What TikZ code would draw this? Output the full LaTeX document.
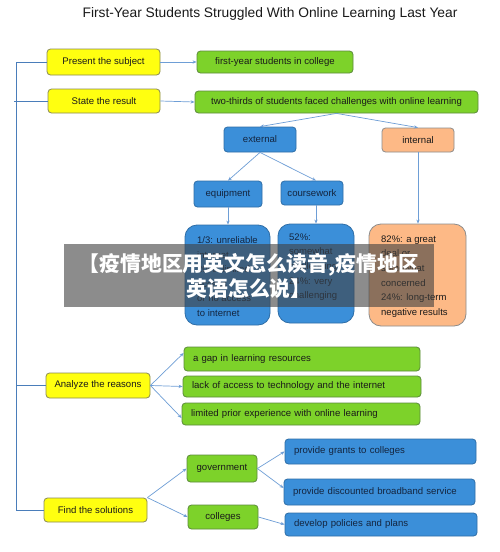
\documentclass[tikz,border=0pt]{standalone}
\usepackage{fontspec}
\setmainfont{Liberation Sans}
\newfontfamily\cjk{Noto Sans CJK SC}
\usetikzlibrary{arrows.meta}
\definecolor{yelfill}{HTML}{FFFF10}
\definecolor{yeldraw}{HTML}{8A8A55}
\definecolor{grnfill}{HTML}{7DD22A}
\definecolor{grndraw}{HTML}{5C8A3C}
\definecolor{blufill}{HTML}{3B8FD9}
\definecolor{bludraw}{HTML}{2E6DA6}
\definecolor{orgfill}{HTML}{FDB986}
\definecolor{orgdraw}{HTML}{8C8C8C}
\definecolor{linecol}{HTML}{6E9ED6}
\definecolor{trunkcol}{HTML}{4A7DBA}
\definecolor{bantone}{HTML}{404040}
\definecolor{txtdark}{HTML}{1A1A1A}
\definecolor{txtblue}{HTML}{14253F}
\tikzset{
  basebox/.style={rectangle, rounded corners=3.5pt, line width=0.8pt, inner sep=0pt,
    font=\fontsize{9.6}{11}\selectfont},
  ybox/.style={basebox, fill=yelfill, draw=yeldraw, text=txtdark},
  gbox/.style={basebox, fill=grnfill, draw=grndraw, text=txtdark},
  bbox/.style={basebox, fill=blufill, draw=bludraw, text=txtblue},
  obox/.style={basebox, fill=orgfill, draw=orgdraw, text=txtdark},
  bigbox/.style={rounded corners=12pt},
  lefttxt/.style={align=left, inner xsep=9pt},
  detailtxt/.style={anchor=north west, inner sep=0pt, align=left,
    font=\fontsize{9.5}{14.6}\selectfont},
  arr/.style={draw=linecol, line width=0.7pt, -{Stealth[length=4pt,width=3.2pt]}},
  trunk/.style={draw=trunkcol, line width=0.8pt},
}
\begin{document}
\begin{tikzpicture}[x=1pt,y=-1pt]
\useasboundingbox[fill=white] (0,0) rectangle (500,552);

\node[font=\fontsize{13.8}{16}\selectfont, text=txtdark] (title) at (270,14)
  {First-Year Students Struggled With Online Learning Last Year};

% yellow boxes
\node[ybox, minimum width=113pt, minimum height=26pt] (ps) at (103.5,62) {Present the subject};
\node[ybox, minimum width=112pt, minimum height=24pt] (sr) at (104,101) {State the result};
\node[ybox, minimum width=104pt, minimum height=25pt] (ar) at (98,385.5) {Analyze the reasons};
\node[ybox, minimum width=103pt, minimum height=24pt] (fs) at (95.5,510) {Find the solutions};

% green boxes
\node[gbox, minimum width=156pt, minimum height=22pt] (fy) at (275,62) {first-year students in college};
\node[gbox, minimum width=283pt, minimum height=22pt] (tt) at (336.5,102) {two-thirds of students faced challenges with online learning};
\node[gbox, lefttxt, text width=218pt, minimum height=24pt] (gap) at (302,359) {a gap in learning resources};
\node[gbox, lefttxt, text width=220pt, minimum height=21pt] (lack) at (302,386.5) {lack of access to technology and the internet};
\node[gbox, lefttxt, text width=220pt, minimum height=22pt] (lim) at (301,414) {limited prior experience with online learning};
\node[gbox, minimum width=70pt, minimum height=27pt] (gov) at (222,468.5) {government};
\node[gbox, minimum width=70pt, minimum height=24pt] (col) at (223,517) {colleges};

% blue / orange boxes
\node[bbox, minimum width=72pt, minimum height=25pt] (ext) at (260,139.5) {external};
\node[obox, minimum width=72pt, minimum height=24pt] (int) at (418,140) {internal};
\node[bbox, minimum width=68pt, minimum height=26pt] (eq) at (228,194) {equipment};
\node[bbox, minimum width=62pt, minimum height=24pt] (cw) at (312,193) {coursework};
\node[bbox, bigbox, minimum width=85pt, minimum height=100pt] (eqd) at (227.5,275) {};
\node[bbox, bigbox, minimum width=76pt, minimum height=99pt] (cwd) at (316,273.5) {};
\node[obox, bigbox, minimum width=97pt, minimum height=102pt] (ind) at (417.5,275) {};
\node[detailtxt, text=txtblue] (eqdt) at (197,236.5)
  {1/3: unreliable\\internet\\20\%: limited\\access\\or no access\\to internet};
\node[detailtxt, text=txtblue] (cwdt) at (289,233.5)
  {52\%:\\somewhat\\challenging\\24\%: very\\challenging};
\node[detailtxt, text=txtdark] (indt) at (381,235.5)
  {82\%: a great\\deal or\\somewhat\\concerned\\24\%: long-term\\negative results};

\node[bbox, lefttxt, text width=173pt, minimum height=25pt] (pg) at (380.5,451.5) {provide grants to colleges};
\node[bbox, lefttxt, text width=173pt, minimum height=26pt] (pd) at (379.5,492) {provide discounted broadband service};
\node[bbox, lefttxt, text width=174pt, minimum height=23pt] (dp) at (381,524.5) {develop policies and plans};

% trunk
\coordinate (tk) at (16,0);
\draw[trunk] (ps.west) -- (ps.west -| tk) -- (fs.west -| tk) -- (fs.west);
\draw[trunk] (sr.west) -- ([xshift=-2pt]sr.west -| tk);
\draw[trunk] (ar.west) -- (ar.west -| tk);

% connectors
\draw[arr] (ps.east) -- (fy.west);
\draw[arr] (sr.east) -- (tt.west);
\draw[arr] (tt.south) -- (ext.north);
\draw[arr] (tt.south) -- (int.north);
\draw[arr] (ext.south) -- (eq.north);
\draw[arr] (ext.south) -- ([xshift=4pt]cw.north);
\draw[arr] (eq.south) -- (eq.south |- eqd.north);
\draw[arr] (cwd.north |- cw.south) -- (cwd.north);
\draw[arr] (int.south) -- (int.south |- ind.north);
\draw[arr] (ar.east) -- ([yshift=6pt]gap.west);
\draw[arr] (ar.east) -- (lack.west);
\draw[arr] (ar.east) -- ([yshift=-4pt]lim.west);
\draw[arr] (fs.north east) -- (gov.west);
\draw[arr] (fs.north east) -- (col.west);
\draw[arr] (gov.east) -- (pg.west);
\draw[arr] (gov.east) -- ([yshift=4pt]pd.west);
\draw[arr] (col.east) -- (dp.west);

% overlay banner
\node[rectangle, inner sep=0pt, fill=bantone, fill opacity=0.6, text opacity=1,
  minimum width=370pt, minimum height=63pt, text=white, align=center,
  font=\cjk\bfseries\fontsize{20.8}{25}\selectfont] (banner) at (249,275.5)
  {【疫情地区用英文怎么读音,疫情地区\\英语怎么说】};
\end{tikzpicture}
\end{document}
